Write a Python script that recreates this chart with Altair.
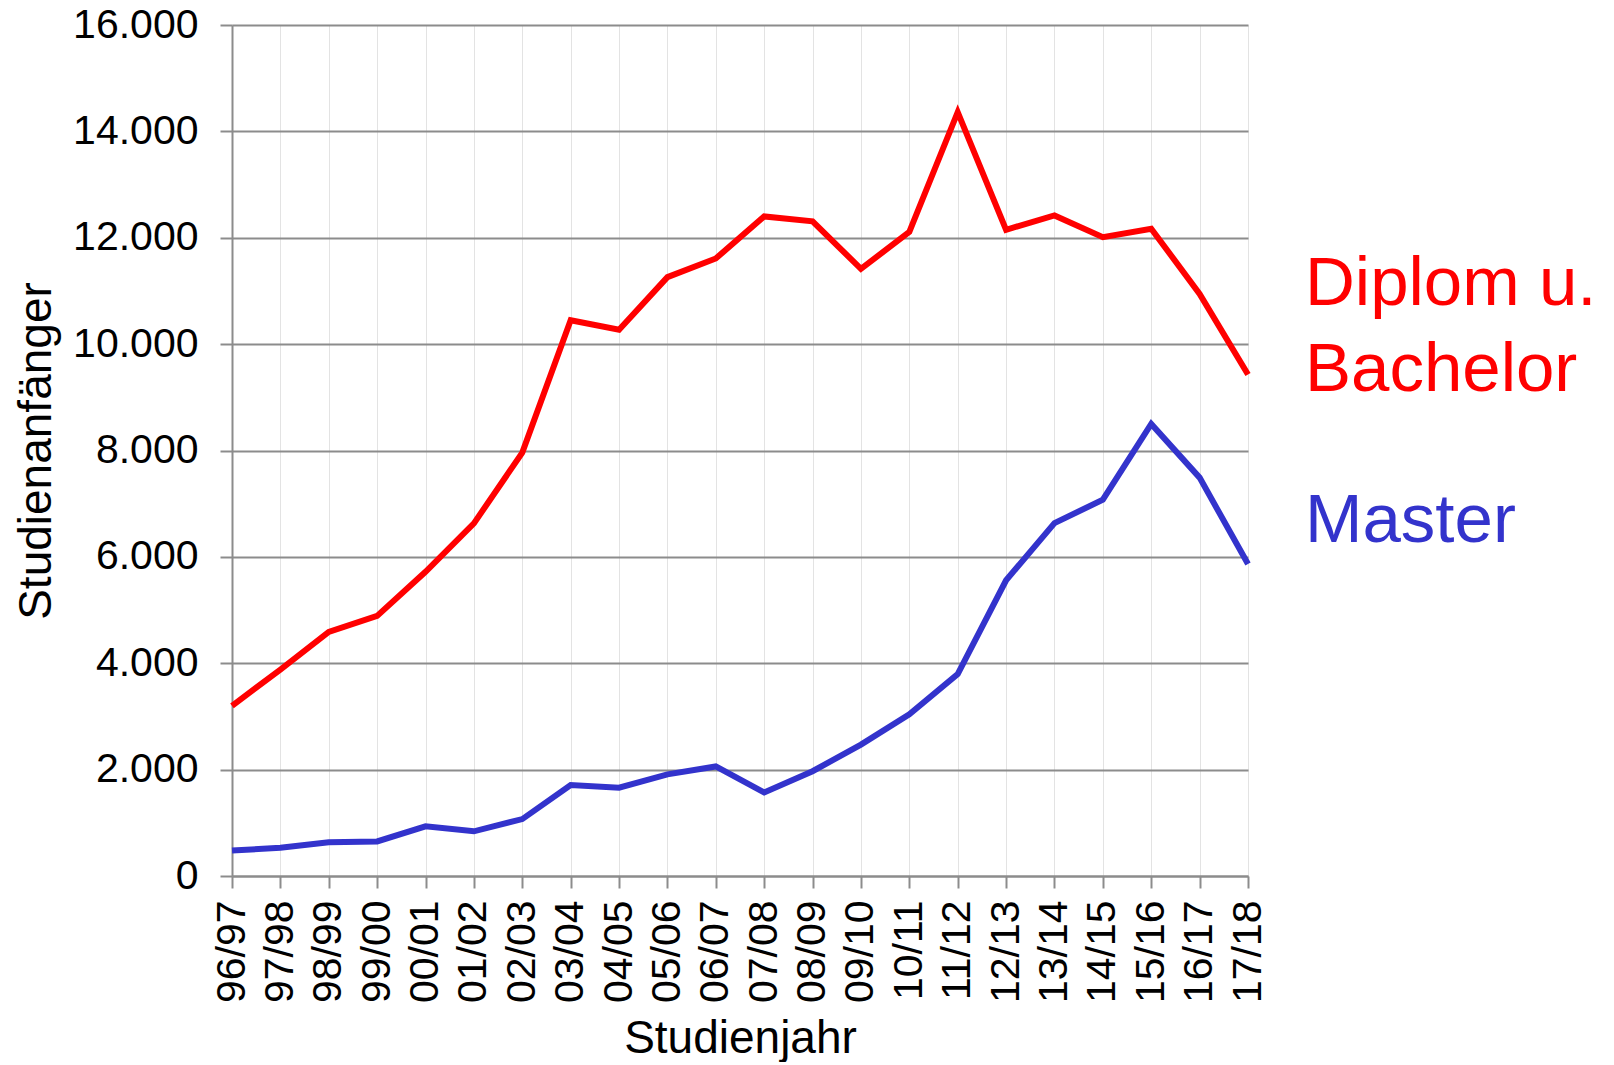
import altair as alt
import pandas as pd

# ---- data ----
years = ["96/97", "97/98", "98/99", "99/00", "00/01", "01/02", "02/03", "03/04",
         "04/05", "05/06", "06/07", "07/08", "08/09", "09/10", "10/11", "11/12",
         "12/13", "13/14", "14/15", "15/16", "16/17", "17/18"]
diplom = [3200, 3880, 4590, 4890, 5720, 6630, 7960, 10450, 10270, 11260, 11610,
          12400, 12310, 11415, 12110, 14360, 12150, 12420, 12010, 12170, 10945, 9430]
master = [480, 530, 635, 650, 935, 840, 1070, 1710, 1660, 1910, 2060,
          1570, 1970, 2470, 3040, 3795, 5560, 6635, 7075, 8500, 7490, 5865]
series_names = ["Diplom u. Bachelor", "Master"]
series_colors = ["#FF0000", "#3333CC"]
label_texts = ["Diplom u.\nBachelor", "Master"]
label_levels = [10730, 6280]
y_ticks = [0, 2000, 4000, 6000, 8000, 10000, 12000, 14000, 16000]

rows = []
for i, (yr, d, m) in enumerate(zip(years, diplom, master)):
    rows.append({"Studienjahr": yr, "Serie": series_names[0], "Wert": d, "idx": i})
    rows.append({"Studienjahr": yr, "Serie": series_names[1], "Wert": m, "idx": i})
df = pd.DataFrame(rows)

lab = pd.DataFrame({
    "Studienjahr": [years[-1], years[-1]],
    "Serie": series_names,
    "Wert": label_levels,
    "Text": label_texts,
})

FONT = "Liberation Sans"
W, H = 1016, 851

x_enc = alt.X(
    "Studienjahr:N", sort=years, title="Studienjahr",
    scale=alt.Scale(type="point", padding=0),
    axis=alt.Axis(labelAngle=270, labelPadding=12, tickSize=12, tickWidth=2,
                  tickColor="#8c8c8c", domainColor="#8c8c8c", domainWidth=2,
                  grid=True, gridColor="#e3e3e3", gridWidth=1,
                  titlePadding=14, labelOverlap=False),
)
y_enc = alt.Y(
    "Wert:Q", title="Studienanfänger",
    scale=alt.Scale(domain=[0, 16000], nice=False),
    axis=alt.Axis(values=y_ticks,
                  labelExpr="replace(format(datum.value, ',d'), ',', '.')",
                  labelPadding=22, tickSize=12, tickWidth=2, tickColor="#8c8c8c",
                  domainColor="#8c8c8c", domainWidth=2,
                  grid=True, gridColor="#8c8c8c", gridWidth=2, titlePadding=12),
)
color_enc = alt.Color("Serie:N", scale=alt.Scale(domain=series_names, range=series_colors),
                      legend=None)

lines = alt.Chart(df).mark_line(strokeWidth=6, strokeJoin="miter").encode(
    x=x_enc, y=y_enc, color=color_enc, order=alt.Order("idx:Q")
)

labels = alt.Chart(lab).mark_text(
    align="left", baseline="alphabetic", dx=57, fontSize=69, font=FONT,
    lineBreak="\n", lineHeight=86
).encode(
    x=alt.X("Studienjahr:N", sort=years, title="Studienjahr"),
    y=alt.Y("Wert:Q", title="Studienanfänger"),
    text="Text:N",
    color=color_enc,
)

chart = alt.layer(lines, labels).properties(
    width=W, height=H,
    autosize=alt.AutoSizeParams(type="none"),
    padding={"left": 224, "top": 17, "right": 350, "bottom": 186},
).configure_view(stroke=None).configure_axis(
    labelFont=FONT, labelFontSize=41, labelColor="black",
    titleFont=FONT, titleFontSize=46, titleFontWeight="normal", titleColor="black",
)

chart.save("out.html", embed_options={"renderer": "svg", "actions": False})
